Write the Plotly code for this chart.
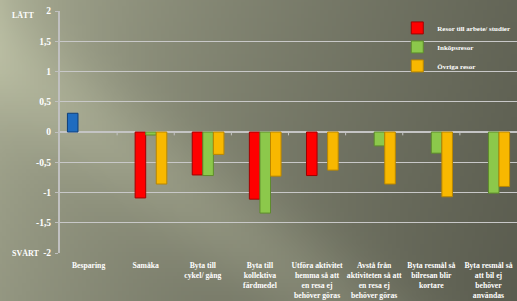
import base64
import struct
import zlib

import numpy as np
import plotly.graph_objects as go

# ---------------- data ----------------
categories = [
    "Besparing",
    "Samåka",
    "Byta till<br>cykel/ gång",
    "Byta till<br>kollektiva<br>färdmedel",
    "Utföra aktivitet<br>hemma så att<br>en resa ej<br>behöver göras",
    "Avstå från<br>aktiviteten så att<br>en resa ej<br>behöver göras",
    "Byta resmål så<br>bilresan blir<br>kortare",
    "Byta resmål så<br>att bil ej<br>behöver<br>användas",
]
besparing = [0.31, None, None, None, None, None, None, None]
arbete_studier = [None, -1.09, -0.71, -1.11, -0.72, None, None, None]
inkopsresor = [None, -0.05, -0.72, -1.34, None, -0.23, -0.35, -1.01]
ovriga_resor = [None, -0.86, -0.37, -0.73, -0.63, -0.86, -1.07, -0.90]

series_names = ["Resor till arbete/ studier", "Inköpsresor", "Övriga resor"]

y_tickvals = [2, 1.5, 1, 0.5, 0, -0.5, -1, -1.5, -2]
y_ticktext = ["2", "1,5", "1", "0,5", "0", "-0,5", "-1", "-1,5", "-2"]

# ---------------- background image (decorative) ----------------
W, H = 130, 76
jj, ii = np.meshgrid(np.arange(W), np.arange(H))
px = (jj + 0.5) * 517 / W
py = (ii + 0.5) * 301 / H
t = np.clip((px * 0.9 + py * 0.3) / 560, 0, 1) ** 0.65
g = 174 - (174 - 90) * t
d = np.array([0.809, 0.588])
perp = np.abs((px - 0) * d[1] - (py - 60) * d[0])
g = g + 20 * np.exp(-(perp ** 2) / (2 * 35 ** 2))
img = np.stack([g, g * 1.02, g * 0.875], axis=-1)
img = np.clip(img, 0, 255).astype(np.uint8)


def to_png_uri(arr):
    h, w, _ = arr.shape
    raw = b"".join(b"\x00" + arr[r].tobytes() for r in range(h))

    def chunk(tag, data):
        c = struct.pack(">I", len(data)) + tag + data
        return c + struct.pack(">I", zlib.crc32(tag + data) & 0xFFFFFFFF)

    png = b"\x89PNG\r\n\x1a\n"
    png += chunk(b"IHDR", struct.pack(">IIBBBBB", w, h, 8, 2, 0, 0, 0))
    png += chunk(b"IDAT", zlib.compress(raw, 9))
    png += chunk(b"IEND", b"")
    return "data:image/png;base64," + base64.b64encode(png).decode()


bg_uri = to_png_uri(img)

# ---------------- figure ----------------
FONT = "Liberation Serif"
fig = go.Figure()

fig.add_trace(go.Bar(
    x=categories, y=besparing, name="Besparing", showlegend=False,
    marker=dict(color="#1f6cc0", line=dict(color="#0f3f78", width=1)),
))
colors = ["#ff0000", "#8cc84b", "#f8b800"]
edges = ["#a00000", "#5e8c2c", "#b88600"]
for name, vals, c, e in zip(series_names, [arbete_studier, inkopsresor, ovriga_resor], colors, edges):
    fig.add_trace(go.Bar(
        x=categories, y=vals, name=name,
        marker=dict(color=c, line=dict(color=e, width=1)),
    ))

# small tick marks on the zero line at the category boundaries
for k in range(len(categories) - 1):
    fig.add_shape(type="line", xref="x", yref="y", x0=k + 0.5, x1=k + 0.5,
                  y0=0, y1=-0.055, line=dict(color="#c4c4c4", width=1), layer="below")

fig.add_layout_image(dict(
    source=bg_uri, xref="paper", yref="paper",
    x=-60 / 457, y=1 + 11 / 242, sizex=517 / 457, sizey=301 / 242,
    xanchor="left", yanchor="top", sizing="stretch", layer="below",
))

fig.add_annotation(text="LÄTT", xref="paper", yref="y", x=-50 / 457, y=1.93,
                   xanchor="left", yanchor="middle", showarrow=False,
                   font=dict(family=FONT, size=8, color="white", weight="bold"))
fig.add_annotation(text="SVÅRT", xref="paper", yref="y", x=-50 / 457, y=-2.0,
                   xanchor="left", yanchor="middle", showarrow=False,
                   font=dict(family=FONT, size=8, color="white", weight="bold"))

fig.update_layout(
    width=517, height=301, autosize=False,
    margin=dict(l=60, r=0, t=11, b=48, autoexpand=False),
    paper_bgcolor="#7c7e6c", plot_bgcolor="rgba(0,0,0,0)",
    barmode="group", bargap=0.26, bargroupgap=0,
    font=dict(family=FONT, color="white"),
    legend=dict(
        x=0.738, y=0.99, xanchor="left", yanchor="top",
        bgcolor="rgba(0,0,0,0)",
        font=dict(family=FONT, size=7, color="white", weight="bold"),
        itemwidth=30,
    ),
    xaxis=dict(
        type="category", showgrid=False, showline=False, ticks="",
        tickangle=0, automargin=False, ticklabelstandoff=6,
        tickfont=dict(family=FONT, size=7.7, color="white", weight="bold"),
    ),
    yaxis=dict(
        range=[-2, 2], tickvals=y_tickvals, ticktext=y_ticktext,
        showgrid=True, gridcolor="#c8c8c8", gridwidth=1,
        zeroline=True, zerolinecolor="#c4c4c4", zerolinewidth=1.5,
        showline=True, linecolor="#c0c0c0", linewidth=2,
        ticks="outside", ticklen=3, tickcolor="#c0c0c0",
        ticklabelstandoff=2, automargin=False,
        tickfont=dict(family=FONT, size=9.5, color="white", weight="bold"),
    ),
)

fig.write_html(
    "out.html",
    config={"displayModeBar": False},
    post_script="document.body.style.margin='0';document.body.style.overflow='hidden';",
)
